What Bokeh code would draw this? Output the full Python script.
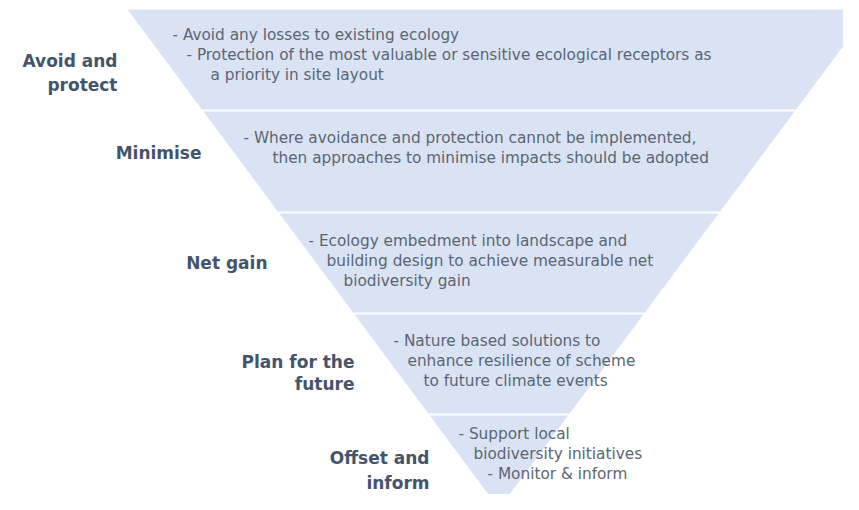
from bokeh.plotting import figure
from bokeh.models import Range1d, ColumnDataSource
from bokeh.core.properties import value
from bokeh.embed import file_html
from bokeh.resources import INLINE

# ---- content -------------------------------------------------------------
stages = ["Avoid and\nprotect", "Minimise", "Net gain", "Plan for the\nfuture", "Offset and\ninform"]
descriptions = [
    ["- Avoid any losses to existing ecology",
     "- Protection of the most valuable or sensitive ecological receptors as",
     "a priority in site layout"],
    ["- Where avoidance and protection cannot be implemented,",
     "then approaches to minimise impacts should be adopted"],
    ["- Ecology embedment into landscape and",
     "building design to achieve measurable net",
     "biodiversity gain"],
    ["- Nature based solutions to",
     "enhance resilience of scheme",
     "to future climate events"],
    ["- Support local",
     "biodiversity initiatives",
     "- Monitor & inform"],
]

# ---- layout (picture pixel coordinates) ----------------------------------
TOP, APEX, CX, HALF_TOP = 9.0, 508.0, 498.5, 371.5
band_edges = [TOP, 110.0, 212.0, 313.0, 414.0, APEX]
GAP = 1.0
label_right = [117, 201, 267, 354, 429]
label_y = [[60, 84], [152], [262], [361, 383], [457, 482]]
desc_x = [[172, 186, 210], [243, 272], [308, 326, 343], [393, 407, 423], [458, 473, 487]]
desc_y = [[34, 54, 74], [137, 157], [240, 260, 280], [340, 360, 380], [433, 453, 473]]

FILL = "#DAE3F3"
LABEL_COLOR = "#44546A"
DESC_COLOR = "#5B6573"
FONT = "DejaVu Sans"


def half_width(y):
    return HALF_TOP * (APEX - y) / (APEX - TOP)


xs, ys = [], []
for i in range(len(stages)):
    y0 = band_edges[i] + (GAP if i > 0 else 0)
    y1 = band_edges[i + 1] - (GAP if i < len(stages) - 1 else 0)
    xs.append([CX - half_width(y0), CX + half_width(y0), CX + half_width(y1), CX - half_width(y1)])
    ys.append([y0, y0, y1, y1])

W, H = 843, 494
p = figure(width=W, height=H, output_backend="svg", toolbar_location=None,
           x_range=Range1d(0, W), y_range=Range1d(H, 0), min_border=0)
p.axis.visible = False
p.grid.visible = False
p.outline_line_color = None
p.background_fill_color = "white"

p.patches(xs=xs, ys=ys, fill_color=FILL, line_color=None)

# stage labels
lx, ly, lt = [], [], []
for i, s in enumerate(stages):
    for j, line in enumerate(s.split("\n")):
        lx.append(label_right[i])
        ly.append(label_y[i][j])
        lt.append(line)
p.text(x="x", y="y", text="t", source=ColumnDataSource(dict(x=lx, y=ly, t=lt)),
       text_font=value(FONT), text_font_style="bold", text_font_size="17px",
       text_color=LABEL_COLOR, text_align="right", text_baseline="middle")

# descriptions
dx, dy, dt = [], [], []
for i, lines in enumerate(descriptions):
    for j, line in enumerate(lines):
        dx.append(desc_x[i][j])
        dy.append(desc_y[i][j])
        dt.append(line)
p.text(x="x", y="y", text="t", source=ColumnDataSource(dict(x=dx, y=dy, t=dt)),
       text_font=value(FONT), text_font_size="15.3px",
       text_color=DESC_COLOR, text_align="left", text_baseline="middle")

open("out.html", "w").write(file_html(p, INLINE))
